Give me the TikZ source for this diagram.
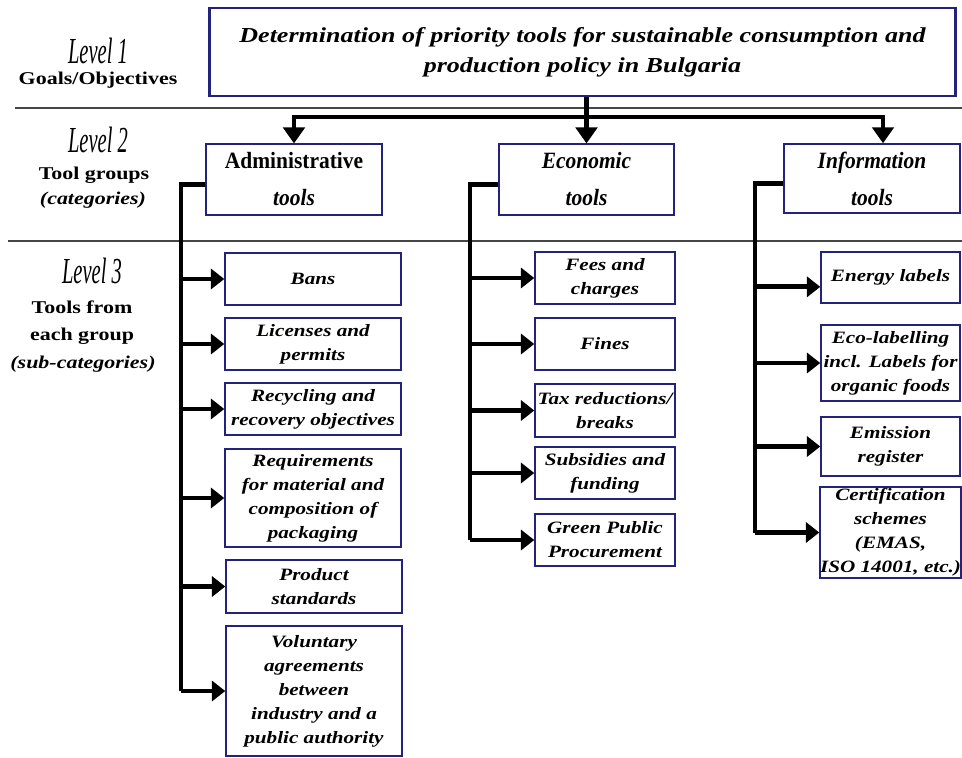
\documentclass[tikz,border=0pt]{standalone}
\usepackage{fontspec}
\setmainfont{Liberation Serif}
\newfontfamily\bkfont[FakeStretch=1.22]{Liberation Serif}
\newfontfamily\grpfont[FakeStretch=0.92]{Liberation Serif}
\newfontfamily\lvlfont[FakeStretch=0.56]{Liberation Serif}
\usetikzlibrary{arrows.meta}
\usetikzlibrary{positioning}
\definecolor{boxblue}{RGB}{35,35,125}
\definecolor{rulegray}{RGB}{70,70,70}

\begin{document}
\begin{tikzpicture}[x=0.75pt, y=-0.75pt,
    goalbox/.style={draw=boxblue, line width=2.2pt, minimum width=560pt, minimum height=66pt,
      align=center, font=\bkfont\bfseries\itshape\fontsize{16}{22.5}\selectfont},
    groupbox/.style={draw=boxblue, line width=1.1pt, minimum width=132pt, minimum height=53pt,
      align=center, inner sep=0pt, font=\grpfont\bfseries\fontsize{17.5}{27.75}\selectfont},
    toolbox/.style={draw=boxblue, line width=1.1pt, align=center, inner sep=0pt,
      font=\bkfont\bfseries\itshape\fontsize{13}{18}\selectfont},
    admbox/.style={toolbox, minimum width=132pt},
    ecobox/.style={toolbox, minimum width=105pt},
    infobox/.style={toolbox, minimum width=104.25pt},
    leveltext/.style={anchor=base, font=\lvlfont\itshape\fontsize{27.5}{28}\selectfont},
    desctext/.style={anchor=base, font=\bkfont\bfseries\fontsize{13.5}{18}\selectfont},
    link/.style={line width=3.6pt},
    arr/.style={line width=3.6pt, -{Triangle[length=10pt, width=15pt]}},
    bigarr/.style={line width=3.6pt, -{Triangle[length=12pt, width=16pt]}},
    divider/.style={rulegray, line width=1.5pt}]

  \useasboundingbox (0,0) rectangle (962,757);

  % level separators
  \draw[divider] (15,108) -- (962,108);
  \draw[divider] (8,241) -- (962,241);

  % level names
  \node[leveltext] (lvlone) at (98,63) {Level 1};
  \node[desctext] (goals) at (98,84) {Goals/Objectives};
  \node[leveltext] (lvltwo) at (98,152) {Level 2};
  \node[desctext] (groups) at (94,179) {Tool groups};
  \node[desctext, font=\bkfont\bfseries\itshape\fontsize{13.5}{18}\selectfont] (cats) at (93,204) {(categories)};
  \node[leveltext] (lvlthree) at (92,283) {Level 3};
  \node[desctext] (toolsfrom) at (82,313) {Tools from};
  \node[desctext] (eachgroup) at (82,340) {each group};
  \node[desctext, font=\bkfont\bfseries\itshape\fontsize{13.5}{18}\selectfont] (subcats) at (83,368) {(sub-categories)};

  % level 1 and 2
  \node[goalbox] (goal) at (582.5,52) {Determination of priority tools for sustainable consumption and\\production policy in Bulgaria};
  \node[groupbox] (adm) at (294,179.5) {Administrative\\\textit{tools}};
  \node[groupbox, minimum width=131.25pt] (eco) at (586.5,179.5) {\textit{Economic}\\\textit{tools}};
  \node[groupbox, minimum height=51.75pt] (info) at (872,178.5) {\textit{Information}\\\textit{tools}};

  % level 3: administrative
  \node[admbox, minimum height=39pt] (bans) at (313,279) {Bans};
  \node[admbox, minimum height=39pt] (lic) at (313,344) {Licenses and\\permits};
  \node[admbox, minimum height=39pt] (rec) at (313,409) {Recycling and\\recovery objectives};
  \node[admbox, minimum height=73.5pt] (req) at (313,498) {Requirements\\for material and\\composition of\\packaging};
  \node[admbox, minimum height=39.75pt] (prod) at (314,586.5) {Product\\standards};
  \node[admbox, minimum height=97.5pt] (vol) at (314,691) {Voluntary\\agreements\\between\\industry and a\\public authority};

  % level 3: economic
  \node[ecobox, minimum height=39pt] (fees) at (605,278) {Fees and\\charges};
  \node[ecobox, minimum height=39pt] (fines) at (605,344) {Fines};
  \node[ecobox, minimum height=39.75pt] (tax) at (605,410.5) {Tax reductions/\\breaks};
  \node[ecobox, minimum height=39pt] (subs) at (605,473) {Subsidies and\\funding};
  \node[ecobox, minimum height=39pt] (gpp) at (605,540) {Green Public\\Procurement};

  % level 3: information
  \node[infobox, minimum height=38.25pt] (energy) at (890.5,277.5) {Energy labels};
  \node[infobox, minimum height=57pt] (ecolab) at (890.5,363) {Eco-labelling\\incl. Labels for\\organic foods};
  \node[infobox, minimum height=44.25pt] (emis) at (890.5,446.5) {Emission\\register};
  \node[infobox, minimum height=68.25pt] (cert) at (890.5,532.5) {Certification\\schemes\\(EMAS,\\ISO 14001, etc.)};

  % goal to groups
  \coordinate (bus) at (588,117);
  \draw[bigarr] (goal.south -| eco.north) -- (eco.north);
  \draw[bigarr] (eco.north |- bus) -| (adm.north);
  \draw[bigarr] (eco.north |- bus) -| ([xshift=8.25pt]info.north);

  % groups to tools
  \coordinate (admx) at (181,0);
  \coordinate (ecox) at (470,0);
  \coordinate (infox) at (755,0);
  \coordinate (energyin) at ([yshift=-7pt]energy.west);
  \draw[link] ([yshift=-4pt]adm.west) -| (admx |- vol.west);
  \draw[link] ([yshift=-3.5pt]eco.west) -| (ecox |- gpp.west);
  \draw[link] ([yshift=-3.5pt]info.west) -| (infox |- cert.west);
  \foreach \t in {bans,lic,rec,req,prod,vol}
    \draw[arr] (admx |- \t.west) -- (\t.west);
  \foreach \t in {fees,fines,tax,subs,gpp}
    \draw[arr] (ecox |- \t.west) -- (\t.west);
  \draw[arr] (infox |- energyin) -- (energyin);
  \foreach \t in {ecolab,emis,cert}
    \draw[arr] (infox |- \t.west) -- (\t.west);
\end{tikzpicture}
\end{document}
